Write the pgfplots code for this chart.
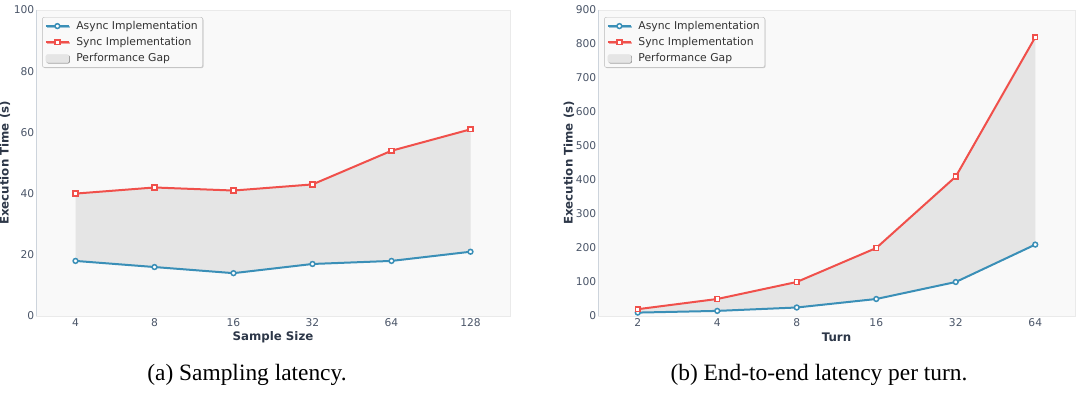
\documentclass[border=0pt]{standalone}
\usepackage{fontspec}
\setmainfont{DejaVu Sans}
\newfontfamily\capfont{Liberation Serif}
\usepackage{pgfplots}
\pgfplotsset{compat=1.18}
\usepackage{pgfplotstable}
\usepgfplotslibrary{fillbetween}
\usetikzlibrary{shadows}
\definecolor{asynccol}{HTML}{3A8FB7}
\definecolor{synccol}{HTML}{F0504B}
\definecolor{gapcol}{HTML}{E5E5E5}
\definecolor{bgcol}{HTML}{F9F9F9}
\definecolor{tickcol}{HTML}{4A5568}
\definecolor{labcol}{HTML}{2D3748}
\definecolor{spinecol}{HTML}{CDD4DC}
\definecolor{spinelight}{HTML}{EAEAEA}

\pgfplotstableread{
x async sync
0 18 40
1 16 42
2 14 41
3 17 43
4 18 54
5 21 61
}\lefttab
\pgfplotstableread{
x async sync
0 10 20
1 15 50
2 25 100
3 50 200
4 100 410
5 210 820
}\righttab

\pgfplotsset{
  mystyle/.style={
    scale only axis,
    anchor=south west,
    height=306pt,
    xmin=-0.5, xmax=5.5, ymin=0,
    xtick={0,...,5},
    major tick length=0pt,
    axis background/.style={fill=bgcol},
    axis line style={spinelight, line width=0.8pt},
    /pgf/number format/assume math mode=true,
    tick label style={font=\fontsize{10.7}{12}\selectfont, text=tickcol},
    yticklabel style={inner sep=1.5pt},
    xticklabel style={inner sep=1.5pt, yshift=-1pt},
    label style={font=\fontsize{11.8}{13}\selectfont\bfseries, text=labcol},
    xlabel style={at={(axis description cs:0.5,-0.068)}, anchor=center},
    legend cell align=left,
    legend style={draw=gray!55, fill=bgcol, rounded corners=2pt,
      drop shadow={shadow xshift=0.8pt, shadow yshift=-0.8pt, fill=black!35},
      font=\fontsize{10.8}{12}\selectfont, text=black!80,
      anchor=north west, inner xsep=2.5pt, inner ysep=1.5pt, row sep=1.5pt,
      nodes={inner sep=2.5pt},
      /tikz/every odd column/.append style={column sep=4pt}},
    legend image code/.code={\draw[mark repeat=2,mark phase=2] plot coordinates {(0pt,0pt) (11.5pt,0pt) (23pt,0pt)};},
  },
  asyncst/.style={asynccol, line width=2pt, mark=*, mark size=2.4pt, mark options={fill=white, draw=asynccol, line width=1.5pt}},
  syncst/.style={synccol, line width=2pt, mark=square*, mark size=2.4pt, mark options={fill=white, draw=synccol, line width=1.5pt}},
}

\begin{document}
\begin{tikzpicture}
\begin{axis}[mystyle, at={(36pt,83pt)}, width=474pt, ymax=100,
  ytick={0,20,40,60,80,100},
  xticklabels={4,8,16,32,64,128},
  xlabel={Sample Size}, ylabel={Execution Time (s)},
  ylabel style={at={(axis description cs:-0.0654,0.5)}, anchor=center},
  legend style={at={(axis description cs:0.013,0.977)}}]
\addplot[asyncst, name path=A] table[x=x,y=async] {\lefttab};
\addlegendentry{Async Implementation}
\addplot[syncst, name path=S] table[x=x,y=sync] {\lefttab};
\addlegendentry{Sync Implementation}
\addplot[gapcol, forget plot] fill between[of=A and S];
\addlegendimage{legend image code/.code={\fill[gapcol] (0pt,-4pt) rectangle (23pt,4pt);}}
\addlegendentry{Performance Gap}
\draw[spinecol, line width=0.8pt] (rel axis cs:0,1) -- (rel axis cs:0,0) -- (rel axis cs:1,0);
\end{axis}

\begin{axis}[mystyle, at={(598pt,83pt)}, width=477pt, ymax=900,
  ytick={0,100,...,900},
  xticklabels={2,4,8,16,32,64},
  xlabel={Turn}, ylabel={Execution Time (s)},
  ylabel style={at={(axis description cs:-0.061,0.5)}, anchor=center},
  legend style={at={(axis description cs:0.013,0.977)}}]
\addplot[asyncst, name path=A] table[x=x,y=async] {\righttab};
\addlegendentry{Async Implementation}
\addplot[syncst, name path=S] table[x=x,y=sync] {\righttab};
\addlegendentry{Sync Implementation}
\addplot[gapcol, forget plot] fill between[of=A and S];
\addlegendimage{legend image code/.code={\fill[gapcol] (0pt,-4pt) rectangle (23pt,4pt);}}
\addlegendentry{Performance Gap}
\draw[spinecol, line width=0.8pt] (rel axis cs:0,1) -- (rel axis cs:0,0) -- (rel axis cs:1,0);
\end{axis}

\node[anchor=base, font=\capfont\fontsize{23.4}{28}\selectfont] at (247pt,18pt) {(a) Sampling latency.};
\node[anchor=base, font=\capfont\fontsize{23.4}{28}\selectfont] at (819pt,18pt) {(b) End-to-end latency per turn.};
\pgfresetboundingbox
\path[use as bounding box] (0,0) rectangle (1080pt,399pt);
\end{tikzpicture}
\end{document}
